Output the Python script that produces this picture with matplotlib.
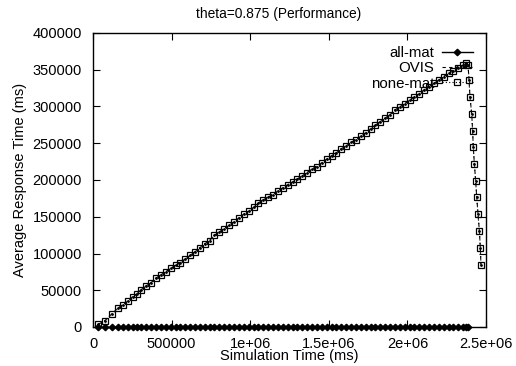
import matplotlib
matplotlib.use('Agg')
import matplotlib.pyplot as plt

plt.rcParams['font.family'] = ['Liberation Sans', 'DejaVu Sans']

# simulation times (ms) while requests are being issued
t_run = [34000, 76000, 119000, 157000, 188000, 220000, 252000, 277000, 305000, 338000,
         370000, 402000, 433000, 462000, 494000, 526000, 556000, 588000, 618000, 650000,
         680000, 712000, 742000, 772000, 804000, 834000, 866000, 897000, 928000, 958000,
         990000, 1022000, 1052000, 1084000, 1114000, 1146000, 1176000, 1208000, 1238000, 1270000,
         1300000, 1332000, 1362000, 1394000, 1424000, 1456000, 1486000, 1518000, 1548000, 1580000,
         1610000, 1642000, 1672000, 1704000, 1734000, 1766000, 1796000, 1828000, 1858000, 1890000,
         1920000, 1952000, 1982000, 2014000, 2044000, 2076000, 2106000, 2138000, 2168000, 2200000,
         2230000, 2262000, 2292000, 2324000, 2352000, 2373000, 2386000]

# tail after the last request: queue drains
t_drain = [2392000, 2398000, 2409000, 2415000, 2419000, 2426000, 2434000, 2441000,
           2449000, 2458000, 2464000, 2468000]

allmat_rt = [0] * len(t_run)

ovis_rt = [3700, 8600, 17700, 25400, 30000, 35400, 41200, 44500, 50600, 56000,
           60500, 66800, 71200, 74900, 79600, 84100, 87500, 92800, 97300, 102500,
           107900, 113400, 117600, 124800, 129300, 134000, 138100, 142900, 148600, 153500,
           157300, 162800, 168900, 173000, 176800, 180200, 185700, 189400, 193600, 197500,
           201400, 205800, 210200, 214900, 218300, 223700, 228500, 233100, 237000, 242600,
           246400, 251200, 255000, 259700, 264300, 269800, 274600, 279500, 284100, 289000,
           295200, 299600, 303800, 308500, 313000, 317400, 322600, 327100, 331300, 336000,
           340700, 344900, 348600, 352300, 355800, 359000, 356000,
           336000, 313000, 290000, 267000, 245000, 222000, 199000, 177000,
           154000, 130000, 107000, 84000]
nonemat_rt = list(ovis_rt)
ovis_t = t_run + t_drain

xticks = [0, 500000, 1000000, 1500000, 2000000, 2500000]
xtick_labels = ['0', '500000', '1e+06', '1.5e+06', '2e+06', '2.5e+06']
yticks = [0, 50000, 100000, 150000, 200000, 250000, 300000, 350000, 400000]

fig = plt.figure(figsize=(5.16, 3.66), dpi=100)
ax = fig.add_axes([93 / 516, 1 - 327 / 366, (486 - 93) / 516, (327 - 33) / 366])

ax.plot(t_run, allmat_rt, color='black', linestyle='-', linewidth=1,
        marker='D', markersize=3.3, markerfacecolor='black', label='all-mat',
        clip_on=False)
ax.plot(ovis_t, ovis_rt, color='black', linestyle=(0, (3, 3)), linewidth=0.8,
        marker='.', markersize=2, label='OVIS', clip_on=False)
ax.plot(ovis_t, nonemat_rt, color='black', linestyle=(0, (1, 2)), linewidth=0.8,
        marker='s', markersize=5, markerfacecolor='none', markeredgewidth=0.9,
        label='none-mat', clip_on=False)

ax.set_xlim(0, 2500000)
ax.set_ylim(0, 400000)
ax.set_xticks(xticks)
ax.set_xticklabels(xtick_labels)
ax.set_yticks(yticks)
ax.set_yticklabels([str(v) for v in yticks])
ax.tick_params(direction='in', length=5, width=0.8, top=True, right=True,
               labelsize=10.5)
ax.tick_params(axis='y', pad=8)
ax.tick_params(axis='x', pad=7)
for s in ax.spines.values():
    s.set_linewidth(1)

fig.text(279 / 516, 1 - 14 / 366, 'theta=0.875 (Performance)', fontsize=9.9,
         ha='center', va='center')
ax.set_xlabel('Simulation Time (ms)', fontsize=10.5, labelpad=-1)
ax.set_ylabel('Average Response Time (ms)', fontsize=10.5, labelpad=4)

ax.legend(loc='upper right', frameon=False, markerfirst=False, fontsize=10.8,
          handlelength=2.1, handletextpad=0.5, labelspacing=0.08,
          borderaxespad=0, borderpad=0, bbox_to_anchor=(0.967, 0.955))

fig.savefig('out.png', dpi=100)
